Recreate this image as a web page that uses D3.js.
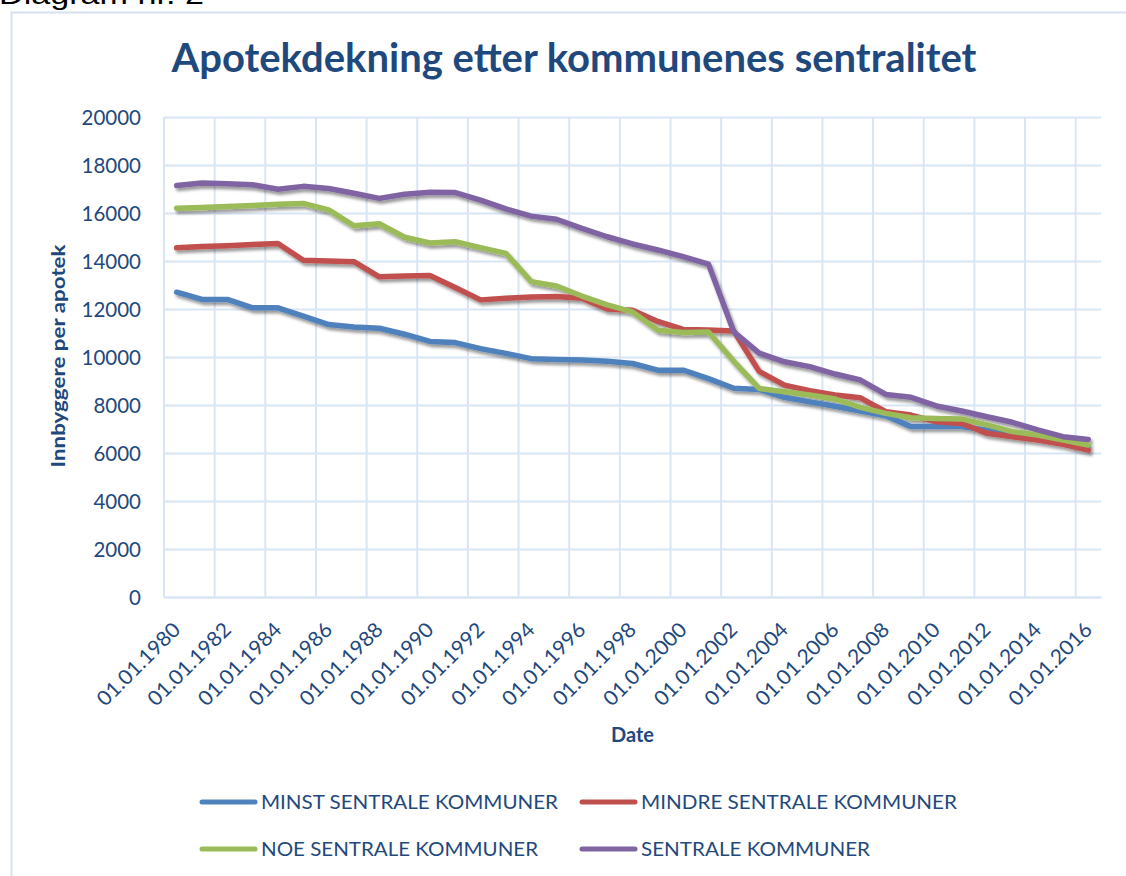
<!DOCTYPE html>
<html>
<head>
<meta charset="utf-8">
<script src="https://cdn.jsdelivr.net/npm/d3@7"></script>
<style>
  body { margin: 0; background: #fff; }
  svg { display: block; }
</style>
</head>
<body>
<div id="chart"></div>
<script>
// years on the category axis, one point per 1 January
const years = [1980, 1981, 1982, 1983, 1984, 1985, 1986, 1987, 1988, 1989,
  1990, 1991, 1992, 1993, 1994, 1995, 1996, 1997, 1998, 1999,
  2000, 2001, 2002, 2003, 2004, 2005, 2006, 2007, 2008, 2009,
  2010, 2011, 2012, 2013, 2014, 2015, 2016]
const categories = years.map(y => "01.01." + y)

const minstSentrale = [12700, 12400, 12400, 12050, 12050, 11700, 11350, 11250, 11200, 10950,
  10650, 10600, 10350, 10150, 9930, 9900, 9870, 9820, 9730, 9450,
  9450, 9100, 8700, 8650, 8320, 8130, 7950, 7750, 7550, 7100,
  7100, 7100, 6950, 6750, 6600, 6450, 6280]
const mindreSentrale = [14550, 14600, 14640, 14690, 14730, 14030, 14000, 13970, 13340, 13370,
  13400, 12900, 12380, 12450, 12500, 12520, 12450, 12000, 11950, 11480,
  11150, 11130, 11080, 9400, 8830, 8600, 8420, 8300, 7720, 7580,
  7300, 7230, 6820, 6680, 6540, 6360, 6120]
const noeSentrale = [16200, 16230, 16270, 16310, 16360, 16400, 16130, 15470, 15550, 14990,
  14750, 14800, 14560, 14320, 13140, 12960, 12540, 12170, 11880, 11120,
  11020, 11040, 9820, 8690, 8550, 8420, 8250, 7900, 7650, 7470,
  7440, 7420, 7170, 6890, 6750, 6540, 6330]
const sentrale = [17150, 17250, 17220, 17180, 16990, 17110, 17020, 16820, 16610, 16780,
  16860, 16850, 16540, 16170, 15870, 15740, 15360, 15010, 14710, 14460,
  14180, 13870, 11050, 10160, 9800, 9600, 9290, 9040, 8440, 8320,
  7960, 7750, 7510, 7280, 6960, 6680, 6560]

const seriesNames = ["MINST SENTRALE KOMMUNER", "MINDRE SENTRALE KOMMUNER",
  "NOE SENTRALE KOMMUNER", "SENTRALE KOMMUNER"]
const seriesValues = [minstSentrale, mindreSentrale, noeSentrale, sentrale]
const seriesColors = ["#4F81BD", "#C0504D", "#9BBB59", "#8064A2"]

const yTicks = [0, 2000, 4000, 6000, 8000, 10000, 12000, 14000, 16000, 18000, 20000]

const W = 1126, H = 876
const plotLeft = 164, plotRight = 1101, plotTop = 117, plotBottom = 597
const textColor = "#1F497D"
const gridColor = "#DAE5F3"
const font = "Lato, 'Open Sans', sans-serif"

const svg = d3.select("#chart").append("svg")
  .attr("width", W)
  .attr("height", H)
  .style("font-family", font)

// shadow like the Excel line effect
const defs = svg.append("defs")
defs.append("filter")
  .attr("id", "shadow")
  .attr("x", "-5%").attr("y", "-5%")
  .attr("width", "110%").attr("height", "120%")
  .append("feDropShadow")
  .attr("dx", 2).attr("dy", 3)
  .attr("stdDeviation", 1.8)
  .attr("flood-color", "#000")
  .attr("flood-opacity", 0.4)

// caption above the frame, cut by the page top as in the source
svg.append("text")
  .attr("x", -1)
  .attr("y", 4)
  .attr("font-family", "'Liberation Sans', Arial, sans-serif")
  .attr("font-size", 27)
  .attr("fill", "#000")
  .attr("textLength", 205)
  .attr("lengthAdjust", "spacingAndGlyphs")
  .text("Diagram nr. 2")

// chart frame
svg.append("rect")
  .attr("x", 11.5).attr("y", 12.5)
  .attr("width", 1300).attr("height", 1000)
  .attr("fill", "none")
  .attr("stroke", "#D5E1F1")
  .attr("stroke-width", 2)

svg.append("text")
  .attr("x", 574)
  .attr("y", 72)
  .attr("text-anchor", "middle")
  .attr("font-size", 40)
  .attr("font-weight", 700)
  .attr("fill", textColor)
  .attr("textLength", 805)
  .attr("lengthAdjust", "spacingAndGlyphs")
  .text("Apotekdekning etter kommunenes sentralitet")

const x = d3.scaleBand()
  .domain(categories)
  .range([plotLeft, plotRight])

const y = d3.scaleLinear()
  .domain([0, 20000])
  .range([plotBottom, plotTop])

// horizontal grid + y labels
const yAxis = svg.append("g")
  .attr("transform", `translate(${plotLeft},0)`)
  .call(d3.axisLeft(y).tickValues(yTicks).tickFormat(d3.format("d"))
    .tickSize(-(plotRight - plotLeft)).tickPadding(23))
yAxis.select(".domain").remove()
yAxis.selectAll(".tick line")
  .attr("stroke", gridColor)
  .attr("stroke-width", 2)
yAxis.selectAll(".tick text")
  .attr("fill", textColor)
  .attr("font-size", 20.5)
  .attr("font-family", font)
  .attr("dy", "0.36em")

// vertical grid at every second category boundary
const boundaryCats = categories.filter((d, i) => i % 2 === 0)
svg.append("g")
  .selectAll("line")
  .data(boundaryCats)
  .join("line")
  .attr("x1", d => x(d)).attr("x2", d => x(d))
  .attr("y1", plotTop).attr("y2", plotBottom)
  .attr("stroke", gridColor)
  .attr("stroke-width", 2)

// x labels
const xAxis = svg.append("g")
  .attr("transform", `translate(0,${plotBottom})`)
  .call(d3.axisBottom(x).tickValues(boundaryCats).tickSize(0))
xAxis.select(".domain")
  .attr("stroke", gridColor)
  .attr("stroke-width", 2)
xAxis.selectAll(".tick text")
  .attr("fill", textColor)
  .attr("font-size", 20.5)
  .attr("font-family", font)
  .attr("text-anchor", "end")
  .attr("textLength", 108)
  .attr("lengthAdjust", "spacingAndGlyphs")
  .attr("x", 0).attr("y", 0).attr("dy", 0)
  .attr("transform", "translate(5,34) rotate(-45)")

// axis titles
svg.append("text")
  .attr("transform", "translate(65,356) rotate(-90)")
  .attr("text-anchor", "middle")
  .attr("font-size", 18)
  .attr("font-weight", 700)
  .attr("fill", textColor)
  .attr("textLength", 223)
  .attr("lengthAdjust", "spacingAndGlyphs")
  .text("Innbyggere per apotek")

svg.append("text")
  .attr("x", (plotLeft + plotRight) / 2)
  .attr("y", 742)
  .attr("text-anchor", "middle")
  .attr("font-size", 20)
  .attr("font-weight", 700)
  .attr("fill", textColor)
  .text("Date")

// the lines
const line = d3.line()
  .x((d, i) => x(categories[i]) + x.bandwidth() / 2)
  .y(d => y(d))

svg.append("g")
  .attr("filter", "url(#shadow)")
  .selectAll("path")
  .data(seriesValues)
  .join("path")
  .attr("d", d => line(d))
  .attr("fill", "none")
  .attr("stroke", (d, i) => seriesColors[i])
  .attr("stroke-width", 5.5)
  .attr("stroke-linejoin", "round")
  .attr("stroke-linecap", "round")

// legend
const legendPos = [[200, 802], [580, 802], [200, 849], [580, 849]]
const legendWidths = [297, 316, 277, 229]
const legend = svg.append("g")
  .selectAll("g")
  .data(seriesNames)
  .join("g")
  .attr("transform", (d, i) => `translate(${legendPos[i][0]},${legendPos[i][1]})`)

legend.append("line")
  .attr("x1", 2).attr("x2", 55)
  .attr("y1", 0).attr("y2", 0)
  .attr("stroke", (d, i) => seriesColors[i])
  .attr("stroke-width", 5)
  .attr("stroke-linecap", "round")

legend.append("text")
  .attr("x", 61)
  .attr("y", 7)
  .attr("font-size", 19)
  .attr("fill", textColor)
  .attr("textLength", (d, i) => legendWidths[i])
  .attr("lengthAdjust", "spacingAndGlyphs")
  .text(d => d)
</script>
</body>
</html>
